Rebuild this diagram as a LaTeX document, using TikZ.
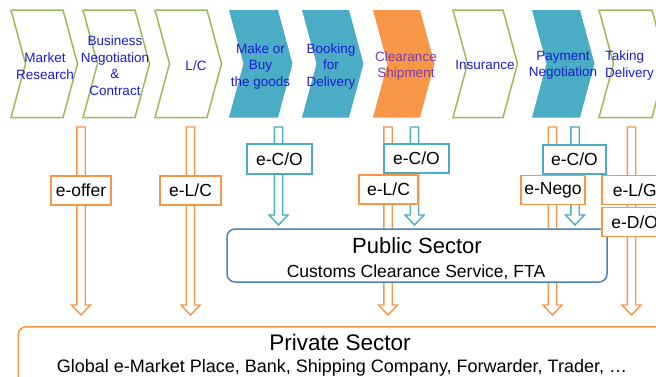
\documentclass[tikz,border=0pt]{standalone}
\usepackage{fontspec}
\setmainfont{Liberation Sans}
\usetikzlibrary{calc}
\definecolor{cgreen}{HTML}{9BBB59}
\definecolor{cteal}{HTML}{4BACC6}
\definecolor{corange}{HTML}{F79646}
\definecolor{cblue}{HTML}{4F81BD}
\definecolor{ctext}{RGB}{28,28,210}
\definecolor{cpurple}{HTML}{7A3CB0}
\newcommand\mychev[3]{\path[#3] (#1,10) -- (#2,10) -- (#2+14.5,63.75) -- (#2,117.5) -- (#1,117.5) -- (#1+14.5,63.75) -- cycle;}
\tikzset{
  chevgreen/.style={draw=cgreen, line width=1.5pt, fill=white},
  chevteal/.style={fill=cteal},
  chevorange/.style={fill=corange},
  chevtext/.style={text=ctext, align=center, inner sep=0pt, font=\fontsize{13.5}{16.5}\selectfont},
  harrow/.style={line width=1.4pt, fill=white, line join=miter, to path={
    let \p1=(\tikztostart), \p2=(\tikztotarget) in
    (\x1-4.2pt,\y1) -- (\x1+4.2pt,\y1) -- (\x1+4.2pt,\y2+10pt) -- (\x1+9.5pt,\y2+10pt)
    -- (\x1,\y2) -- (\x1-9.5pt,\y2+10pt) -- (\x1-4.2pt,\y2+10pt) -- cycle}},
  oarrow/.style={harrow, draw=corange},
  tarrow/.style={harrow, draw=cteal},
  lbl/.style={draw, fill=white, line width=1.5pt, inner sep=0pt, minimum height=29pt,
    font=\fontsize{17.5}{20}\selectfont, text=black},
  olbl/.style={lbl, draw=corange},
  tlbl/.style={lbl, draw=cteal},
  sector/.style={draw, fill=white, line width=1.5pt, rounded corners=8pt},
}
\begin{document}
\begin{tikzpicture}[x=1pt, y=-1pt]
\clip (0,0) rectangle (656,376);
% chevrons
\mychev{11}{63}{chevgreen}
\mychev{83}{135}{chevgreen}
\mychev{155}{207}{chevgreen}
\mychev{229}{278}{chevteal}
\mychev{302}{349}{chevteal}
\mychev{373}{420}{chevorange}
\mychev{453}{503}{chevgreen}
\mychev{532}{580}{chevteal}
\mychev{599}{652}{chevgreen}
\node[chevtext] (c1) at (45,66) {Market\\Research};
\node[chevtext] (c2) at (115,65.5) {Business\\Negotiation\\\&\\Contract};
\node[chevtext] (c3) at (196,65.5) {L/C};
\node[chevtext] (c4) at (260.5,66.5) {Make or\\Buy\\the goods};
\node[chevtext] (c5) at (331,66.5) {Booking\\for\\Delivery};
\node[chevtext, text=cpurple] (c6) at (406,66) {Clearance\\Shipment};
\node[chevtext] (c7) at (485,64.5) {Insurance};
\node[chevtext] (c8) at (563,65.5) {Payment\\Negotiation};
\node[chevtext, align=left, anchor=west] (c9) at (605,65.5) {Taking\\Delivery};
% arrow coordinates
\coordinate (oa1) at (81,127);   \coordinate (ob1) at (81,315);
\coordinate (oa2) at (190.5,127);\coordinate (ob2) at (190.5,315);
\coordinate (oa3) at (388,127);  \coordinate (ob3) at (388,315);
\coordinate (oa4) at (552.5,127);\coordinate (ob4) at (552.5,315);
\coordinate (oa5) at (631.5,127);\coordinate (ob5) at (631.5,315);
\coordinate (ta1) at (278.5,127);\coordinate (tb1) at (278.5,225);
\coordinate (ta2) at (414.5,127);\coordinate (tb2) at (414.5,225);
\coordinate (ta3) at (575,127);  \coordinate (tb3) at (575,225);
\foreach \i in {1,...,5} {\draw[oarrow] (oa\i) to (ob\i);}
\foreach \i in {1,2,3} {\draw[tarrow] (ta\i) to (tb\i);}
% labels
\node[olbl, minimum width=60pt] (l1) at (81,190.5) {e-offer};
\node[olbl, minimum width=61pt] (l2) at (190.5,190.5) {e-L/C};
\node[tlbl, minimum width=65pt, minimum height=30pt] (l3) at (279.5,159) {e-C/O};
\node[tlbl, minimum width=65pt] (l4) at (416.5,158.5) {e-C/O};
\node[olbl, minimum width=59pt] (l5) at (388.5,189.5) {e-L/C};
\node[tlbl, minimum width=63pt] (l6) at (574.5,159.5) {e-C/O};
\node[olbl, minimum width=64pt] (l7) at (553,190) {e-Nego};
% public sector
\node[sector, draw=cblue, minimum width=380pt, minimum height=53pt] (pub) at (417,255.5) {};
\node[anchor=base, font=\fontsize{22}{26}\selectfont] (pubt) at (417,253) {Public Sector};
\node[anchor=base, font=\fontsize{17.5}{20}\selectfont] (pubs) at (416,277) {Customs Clearance Service, FTA};
\node[olbl, minimum width=66pt, anchor=west] (l8) at (601,190) {e-L/G};
\node[olbl, minimum width=66pt, anchor=west] (l9) at (601,222) {e-D/O};
% private sector
\node[sector, draw=corange, minimum width=680pt, minimum height=80pt, anchor=north west] (priv) at (17.5,326) {};
\node[anchor=base, font=\fontsize{22.5}{26}\selectfont] (privt) at (340,350) {Private Sector};
\node[anchor=base, font=\fontsize{18}{20}\selectfont] (privs) at (342,372.5) {Global e-Market Place, Bank, Shipping Company, Forwarder, Trader, …};
\end{tikzpicture}
\end{document}
